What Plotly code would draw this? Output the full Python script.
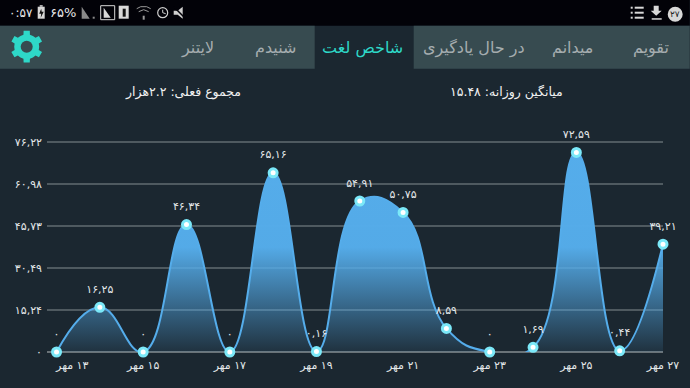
import math
import plotly.graph_objects as go

# ---- data ----
days = [13, 14, 15, 16, 17, 18, 19, 20, 21, 22, 23, 24, 25, 26, 27]
values = [0, 16.25, 0, 46.34, 0, 65.16, 0.16, 54.91, 50.75, 8.59, 0, 1.69, 72.59, 0.44, 39.21]
value_labels = ["۰", "۱۶,۲۵", "۰", "۴۶,۳۴", "۰", "۶۵,۱۶", "۰,۱۶", "۵۴,۹۱", "۵۰,۷۵", "۸,۵۹",
                "۰", "۱,۶۹", "۷۲,۵۹", "۰,۴۴", "۳۹,۲۱"]
y_ticks = [0, 15.24, 30.49, 45.73, 60.98, 76.22]
y_tick_labels = ["۰", "۱۵,۲۴", "۳۰,۴۹", "۴۵,۷۳", "۶۰,۹۸", "۷۶,۲۲"]
x_ticks = [13, 15, 17, 19, 21, 23, 25, 27]
x_tick_labels = ["\u200f۱۳ مهر" + "\u00a0" * 9 + "\u200f", "\u200f۱۵ مهر", "\u200f۱۷ مهر", "\u200f۱۹ مهر",
                 "\u200f۲۱ مهر", "\u200f۲۳ مهر", "\u200f۲۵ مهر", "\u200f۲۷ مهر"]
tabs = ["تقویم", "میدانم", "در حال یادگیری", "شاخص لغت", "شنیدم", "لایتنر"]
tab_x = [651, 573, 474, 363, 276, 198]

FONT = "DejaVu Sans"
BG = "#1b2730"
BLUE = "#55adeb"
TEAL = "#2ed8c8"
BAR = "#374b50"

fig = go.Figure()
fig.add_trace(go.Scatter(
    x=days, y=values, mode="lines",
    line=dict(shape="spline", smoothing=1.3, color=BLUE, width=2),
    fill="tozeroy",
    fillgradient=dict(type="vertical", start=0, stop=76.22,
                      colorscale=[[0, "rgba(85,173,235,0.08)"], [0.5, "rgba(85,173,235,0.98)"], [1, "rgba(85,173,235,1)"]]),
    cliponaxis=True, hoverinfo="skip", showlegend=False,
))
fig.add_trace(go.Scatter(
    x=days, y=values, mode="markers",
    marker=dict(size=8, color="white", line=dict(color="#7be8f8", width=3)),
    cliponaxis=False, hoverinfo="skip", showlegend=False,
))
# text trace: an invisible, larger marker sets the label's distance from the point
fig.add_trace(go.Scatter(
    x=days, y=values, mode="markers+text",
    marker=dict(size=17, color="rgba(0,0,0,0)"),
    text=value_labels, textposition="top center",
    textfont=dict(family=FONT, size=11, color="#e4e8ea"),
    cliponaxis=False, hoverinfo="skip", showlegend=False,
))

W, H = 690, 388
L, R, T, B = 47.3, 26.7, 132.3, 35.7
pw, ph = W - L - R, H - T - B
def px(x): return (x - L) / pw
def py(y): return (H - B - y) / ph
def rect(x0, y0, x1, y1, color, line=None):
    return dict(type="rect", xref="paper", yref="paper", x0=px(x0), x1=px(x1), y0=py(y1), y1=py(y0),
                line=dict(width=1 if line else 0, color=line or color),
                fillcolor=color, layer="above")
def circle(x0, y0, x1, y1, color, line=None, lw=1):
    return dict(type="circle", xref="paper", yref="paper", x0=px(x0), x1=px(x1), y0=py(y1), y1=py(y0),
                line=dict(width=lw if line else 0, color=line or color), fillcolor=color, layer="above")
def poly(points, color, closed=True, lw=0, line=None):
    d = "M " + " L ".join(f"{px(a):.5f},{py(b):.5f}" for a, b in points) + (" Z" if closed else "")
    return dict(type="path", xref="paper", yref="paper", path=d, fillcolor=color if closed else "rgba(0,0,0,0)",
                line=dict(width=lw, color=line or color), layer="above")

shapes = [rect(0, 0, 690, 26, "#020208"), rect(0, 26, 315, 69, BAR), rect(414, 26, 690, 69, BAR)]

# gear icon
gear = []
cx, cy = 27, 47
for i in range(6):
    a = math.radians(60 * i - 90)
    for off, rad in [(-30, 12.5), (-15, 12.5), (-11, 16.2), (11, 16.2), (15, 12.5)]:
        t = a + math.radians(off)
        gear.append((cx + rad * math.cos(t), cy + rad * math.sin(t)))
shapes += [poly(gear, TEAL), circle(cx - 6, cy - 6, cx + 6, cy + 6, BAR)]

# status bar icons
shapes += [
    rect(38, 7, 45, 19, "#d8d8d8"), rect(40, 5.5, 43, 7, "#d8d8d8"),
    poly([(41.5, 9), (39.5, 14), (41.5, 14), (41, 18), (44, 12), (42, 12)], "#111111"),
    poly([(82, 7), (90, 19), (82, 19)], "#8a8a8a"), rect(93, 17, 95, 19, "#8a8a8a"),
    rect(101, 6, 115, 20, "#020208", "#d8d8d8"),
    poly([(104, 8), (111, 18), (104, 18)], "#d8d8d8"),
    rect(119, 6, 129, 19, "#d8d8d8"), rect(123, 9, 126, 17, "#111111"),
    rect(143, 16, 145, 20, "#9a9a9a"),
    poly([(137, 9), (141, 7), (147, 7), (151, 9)], "rgba(0,0,0,0)", closed=False, lw=1, line="#9a9a9a"),
    poly([(139, 12), (144, 10), (149, 12)], "rgba(0,0,0,0)", closed=False, lw=1, line="#9a9a9a"),
    circle(158, 8, 168, 18, "#020208", "#cfcfcf", 1.2),
    poly([(163, 10), (163, 13), (166, 14)], "rgba(0,0,0,0)", closed=False, lw=1, line="#cfcfcf"),
    poly([(174, 11), (178, 11), (183, 7), (183, 19), (178, 15), (174, 15)], "#cfcfcf"),
    poly([(174, 7), (186, 19)], "rgba(0,0,0,0)", closed=False, lw=1.5, line="#020208"),
    rect(631, 7, 633, 9, "#d8d8d8"), rect(635, 7, 644, 9, "#d8d8d8"),
    rect(631, 12, 633, 14, "#d8d8d8"), rect(635, 12, 644, 14, "#d8d8d8"),
    rect(631, 17, 633, 19, "#d8d8d8"), rect(635, 17, 644, 19, "#d8d8d8"),
    poly([(654, 6), (659, 6), (659, 11), (662, 11), (656.5, 16), (651, 11), (654, 11)], "#d8d8d8"),
    rect(652, 18.5, 662, 20, "#d8d8d8"),
    circle(668, 7, 683, 22, "#d8d8d8"),
]

ann = []
def label(x, y, text, size, color, anchor="center", family=FONT):
    ann.append(dict(xref="paper", yref="paper", x=px(x), y=py(y), text=text, showarrow=False,
                    xanchor=anchor, yanchor="middle", font=dict(family=family, size=size, color=color)))
for t, xp in zip(tabs, tab_x):
    label(xp, 48, "\u200f" + t, 16, TEAL if t == "شاخص لغت" else "#a5adaf")
label(183, 92.5, "\u200fمجموع فعلی: ۲.۲هزار", 12.5, "#f2f2f2")
label(507, 92.5, "\u200fمیانگین روزانه: ۱۵.۴۸", 12.5, "#f2f2f2")
label(21, 13, "۰:۵۷", 12, "#e8e8e8")
label(63, 13, "۶۵%", 13, "#e8e8e8")
label(675.5, 14.5, "۲۷", 9, "#222222")

fig.update_layout(
    width=W, height=H, autosize=False, paper_bgcolor=BG, plot_bgcolor=BG,
    margin=dict(l=L, r=R, t=T, b=B, pad=0),
    font=dict(family=FONT),
    xaxis=dict(range=[12.78, 27], tickvals=x_ticks, ticktext=x_tick_labels, showgrid=False, zeroline=False,
               showline=False, ticks="", ticklen=0, ticklabelstandoff=5,
               tickfont=dict(family=FONT, size=11, color="#e4e8ea")),
    yaxis=dict(range=[0, 80], tickvals=y_ticks, ticktext=y_tick_labels, showgrid=True, gridcolor="#4f5a60",
               gridwidth=1.5, zeroline=True, zerolinecolor="#6a7378", zerolinewidth=1.5, showline=False,
               ticks="", ticklen=0, ticklabelstandoff=4,
               tickfont=dict(family=FONT, size=11, color="#e4e8ea")),
    shapes=shapes, annotations=ann,
)
fig.write_html("out.html", config=dict(displayModeBar=False),
               post_script="document.body.style.margin='0';document.body.style.overflow='hidden';")
